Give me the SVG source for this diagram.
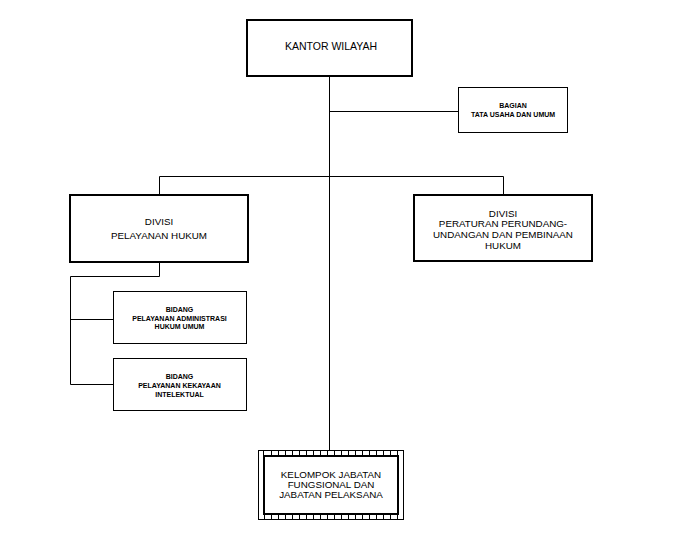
<svg xmlns="http://www.w3.org/2000/svg" width="673" height="548" viewBox="0 0 673 548">
<style>
.thick{fill:#fff;stroke:#000;stroke-width:2}
.thin{fill:#fff;stroke:#000;stroke-width:1}
.ln{fill:none;stroke:#000;stroke-width:1}
.t{font-family:"Liberation Sans",Arial,sans-serif;fill:#000;text-anchor:middle}
.big{font-size:10.5px}
.mid{font-size:9.8px}
.sm{font-size:7px;font-weight:bold}
</style>
<rect width="673" height="548" fill="#fff"/>
<g id="connectors">
<path class="ln" d="M329.5 76V450"/>
<path class="ln" d="M329.5 111.5H458"/>
<path class="ln" d="M159.5 195V176.5H503.5V195"/>
<path class="ln" d="M159.5 262V276.5H70.5V384.5H113"/>
<path class="ln" d="M70.5 319.5H113"/>
</g>
<g id="kantor-wilayah">
<rect class="thick" x="247" y="20" width="165" height="56"/>
<text class="t big" x="331" y="50">KANTOR WILAYAH</text>
</g>
<g id="bagian-tata-usaha">
<rect class="thin" x="458.5" y="87.5" width="109" height="45"/>
<text class="t sm" x="513" y="107.5">BAGIAN</text>
<text class="t sm" x="513" y="116.5">TATA USAHA DAN UMUM</text>
</g>
<g id="divisi-pelayanan-hukum">
<rect class="thick" x="70" y="195" width="178" height="67"/>
<text class="t mid" x="159" y="225">DIVISI</text>
<text class="t mid" x="159" y="239">PELAYANAN HUKUM</text>
</g>
<g id="divisi-peraturan">
<rect class="thick" x="414" y="195" width="178" height="66"/>
<text class="t mid" x="503" y="216.5">DIVISI</text>
<text class="t mid" x="503" y="227">PERATURAN PERUNDANG-</text>
<text class="t mid" x="503" y="237.5">UNDANGAN DAN PEMBINAAN</text>
<text class="t mid" x="503" y="248.5">HUKUM</text>
</g>
<g id="bidang-administrasi">
<rect class="thin" x="113.5" y="291.5" width="133" height="52"/>
<text class="t sm" x="179.5" y="312">BIDANG</text>
<text class="t sm" x="179.5" y="320.5">PELAYANAN ADMINISTRASI</text>
<text class="t sm" x="179.5" y="329">HUKUM UMUM</text>
</g>
<g id="bidang-kekayaan">
<rect class="thin" x="113.5" y="358.5" width="133" height="52"/>
<text class="t sm" x="179.5" y="378.5">BIDANG</text>
<text class="t sm" x="179.5" y="387.5">PELAYANAN KEKAYAAN</text>
<text class="t sm" x="179.5" y="396.5">INTELEKTUAL</text>
</g>
<g id="kelompok-jabatan">
<rect class="thin" x="258.5" y="450.5" width="145" height="69"/>
<path class="ln" d="M271.5 450.5v5M278.5 450.5v5M285.5 450.5v5M292.5 450.5v5M299.5 450.5v5M306.5 450.5v5M313.5 450.5v5M320.5 450.5v5M327.5 450.5v5M334.5 450.5v5M341.5 450.5v5M348.5 450.5v5M355.5 450.5v5M362.5 450.5v5M369.5 450.5v5M376.5 450.5v5M383.5 450.5v5M390.5 450.5v5M397.5 450.5v5"/>
<path class="ln" d="M271.5 514.5v5M278.5 514.5v5M285.5 514.5v5M292.5 514.5v5M299.5 514.5v5M306.5 514.5v5M313.5 514.5v5M320.5 514.5v5M327.5 514.5v5M334.5 514.5v5M341.5 514.5v5M348.5 514.5v5M355.5 514.5v5M362.5 514.5v5M369.5 514.5v5M376.5 514.5v5M383.5 514.5v5M390.5 514.5v5M397.5 514.5v5"/>
<path class="ln" d="M263.5 450.5v5M264.5 514.5v5"/>
<rect class="thick" x="264" y="456" width="134" height="58"/>
<text class="t mid" x="331" y="477.5">KELOMPOK JABATAN</text>
<text class="t mid" x="331" y="487.5">FUNGSIONAL DAN</text>
<text class="t mid" x="331" y="497.5">JABATAN PELAKSANA</text>
</g>
</svg>
